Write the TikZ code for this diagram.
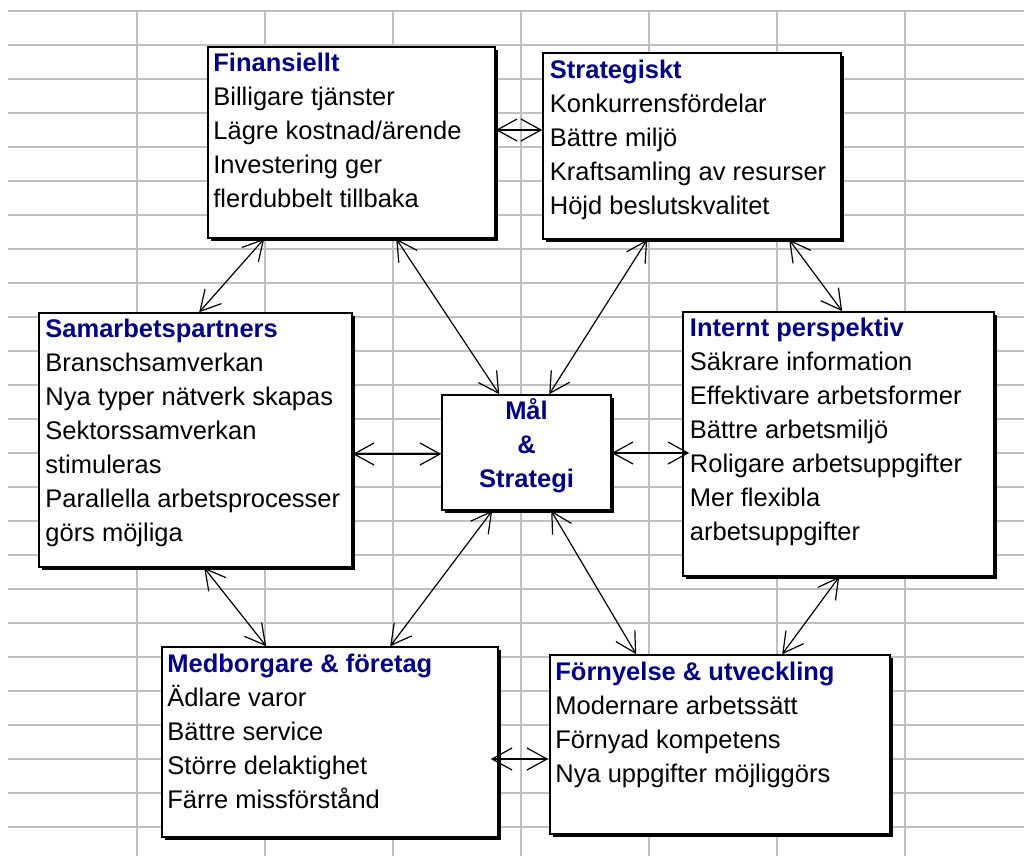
\documentclass[tikz,border=0pt]{standalone}
\usepackage{fontspec}
\setmainfont{Liberation Sans}
\usepackage{xcolor}
\usetikzlibrary{arrows.meta}
\usetikzlibrary{shadows}
\definecolor{rubrikblaa}{RGB}{0,0,128}
\definecolor{rutnat}{RGB}{192,192,192}
\newcommand{\rubrik}[1]{\textbf{\color{rubrikblaa}#1}}

\begin{document}
\begin{tikzpicture}[x=1pt,y=-1pt,
    ruta/.style={draw, line width=1.6pt, fill=white, rectangle, inner sep=0pt,
      general shadow={fill=black, shadow xshift=3pt, shadow yshift=-3pt}},
    punkter/.style={align=left, inner sep=0pt, anchor=base west,
      font=\fontsize{25.5}{34}\selectfont},
    pil/.style={line width=1.2pt,
      {Straight Barb[length=20pt,width=22pt]}-{Straight Barb[length=20pt,width=22pt]}}]
    \useasboundingbox (0,0) rectangle (1024,856);
    % kalkylbladets rutnat
    \foreach \y in {11,45,...,827} \draw[rutnat, line width=1.8pt] (8,\y) -- (1024,\y);
    \foreach \x in {137,265,...,905} \draw[rutnat, line width=1.8pt] (\x,11) -- (\x,856);
    % rutorna
    \node[ruta, minimum width=287pt, minimum height=191pt] (fin) at (351.5,142.5) {};
    \node[ruta, minimum width=298pt, minimum height=186pt] (str) at (692,146) {};
    \node[ruta, minimum width=313pt, minimum height=254pt] (sam) at (195.5,440) {};
    \node[ruta, minimum width=169pt, minimum height=115pt] (mal) at (526.5,452.5) {};
    \node[ruta, minimum width=311pt, minimum height=264pt] (int) at (838.5,444) {};
    \node[ruta, minimum width=336pt, minimum height=190pt] (med) at (330,742) {};
    \node[ruta, minimum width=340pt, minimum height=179pt] (forn) at (720,744.5) {};
    % texterna (ankare = sista radens baslinje)
    \node[punkter] (fin-t) at ([xshift=6pt,yshift=-161.7pt]fin.north west)
      {\rubrik{Finansiellt}\\Billigare tjänster\\Lägre kostnad/ärende\\Investering ger\\flerdubbelt tillbaka};
    \node[punkter] (str-t) at ([xshift=7.5pt,yshift=-162pt]str.north west)
      {\rubrik{Strategiskt}\\Konkurrensfördelar\\Bättre miljö\\Kraftsamling av resurser\\Höjd beslutskvalitet};
    \node[punkter] (sam-t) at ([xshift=7pt,yshift=-229pt]sam.north west)
      {\rubrik{Samarbetspartners}\\Branschsamverkan\\Nya typer nätverk skapas\\Sektorssamverkan\\stimuleras\\Parallella arbetsprocesser\\görs möjliga};
    \node[punkter, align=center, anchor=base] (mal-t) at ([yshift=-93pt]mal.north)
      {\rubrik{Mål}\\\rubrik{\&}\\\rubrik{Strategi}};
    \node[punkter] (int-t) at ([xshift=7.5pt,yshift=-229pt]int.north west)
      {\rubrik{Internt perspektiv}\\Säkrare information\\Effektivare arbetsformer\\Bättre arbetsmiljö\\Roligare arbetsuppgifter\\Mer flexibla\\arbetsuppgifter};
    \node[punkter] (med-t) at ([xshift=6pt,yshift=-162pt]med.north west)
      {\rubrik{Medborgare \& företag}\\Ädlare varor\\Bättre service\\Större delaktighet\\Färre missförstånd};
    \node[punkter] (forn-t) at ([xshift=6pt,yshift=-128pt]forn.north west)
      {\rubrik{Förnyelse \& utveckling}\\Modernare arbetssätt\\Förnyad kompetens\\Nya uppgifter möjliggörs};
    % pilarna
    \draw[pil] ([yshift=12.5pt]fin.east) -- ([yshift=16pt]str.west);
    \draw[pil] ([xshift=57pt]fin.south west) -- ([xshift=161pt]sam.north west);
    \draw[pil] ([xshift=189pt]fin.south west) -- ([xshift=58pt]mal.north west);
    \draw[pil] ([xshift=105pt]str.south west) -- ([xshift=108pt]mal.north west);
    \draw[pil] ([xshift=247pt]str.south west) -- ([xshift=160pt]int.north west);
    \draw[pil] ([yshift=-14pt]sam.east) -- ([yshift=-1.5pt]mal.west);
    \draw[pil] ([yshift=-0.5pt]mal.east) -- ([xshift=7pt,yshift=-9pt]int.west);
    \draw[pil] ([xshift=166pt]sam.south west) -- ([xshift=105pt]med.north west);
    \draw[pil] ([xshift=51pt]mal.south west) -- ([xshift=229pt]med.north west);
    \draw[pil] ([xshift=110pt]mal.south west) -- ([xshift=87pt]forn.north west);
    \draw[pil] ([xshift=157pt]int.south west) -- ([xshift=233pt]forn.north west);
    \draw[pil] ([xshift=-8pt,yshift=-17pt]med.east) -- ([xshift=-1pt,yshift=-14.5pt]forn.west);
  \end{tikzpicture}
\end{document}
